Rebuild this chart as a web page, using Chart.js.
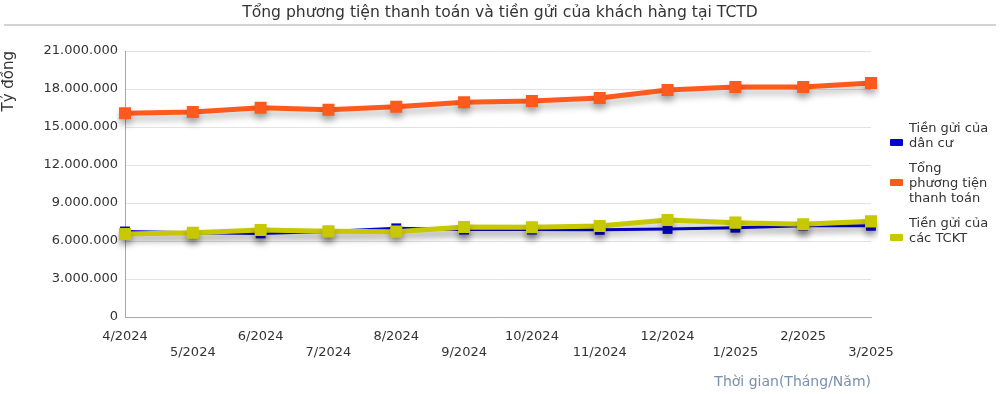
<!DOCTYPE html>
<html>
<head>
<meta charset="utf-8">
<script src="https://cdn.jsdelivr.net/npm/chart.js@4"></script>
<style>
  body { margin: 0; background: #fff; font-family: 'DejaVu Sans', sans-serif; }
  #wrap { position: relative; width: 1000px; height: 394px; }
  #title { position: absolute; left: 0; top: 3px; width: 1000px; text-align: center; font-size: 15.6px; color: #333; }
  #rule { position: absolute; left: 4px; top: 24px; width: 992px; height: 2px; background: #d4d4d4; }
  #legend { position: absolute; left: 890px; top: 120px; font-size: 13px; color: #333; line-height: 15px; }
  .item { display: flex; align-items: flex-start; margin-bottom: 10px; }
  .mark { width: 13px; height: 7px; margin-right: 6px; margin-top: 19px; flex: none; border-radius: 1px; }
</style>
</head>
<body>
<div id="wrap">
  <canvas id="chart" width="1000" height="394"></canvas>
  <div id="title">Tổng phương tiện thanh toán và tiền gửi của khách hàng tại TCTD</div>
  <div id="rule"></div>
  <div id="legend"></div>
</div>
<script>
const months = ['4/2024', '5/2024', '6/2024', '7/2024', '8/2024', '9/2024', '10/2024', '11/2024', '12/2024', '1/2025', '2/2025', '3/2025'];

// triệu tỷ đồng -> đơn vị tỷ đồng
const danCu = [6.75, 6.65, 6.6, 6.75, 7.0, 6.9, 6.9, 6.88, 6.95, 7.05, 7.2, 7.2];
const tongPTTT = [16.08, 16.18, 16.52, 16.37, 16.6, 16.95, 17.05, 17.29, 17.92, 18.16, 18.16, 18.47];
const tckt = [6.55, 6.66, 6.87, 6.76, 6.74, 7.1, 7.08, 7.18, 7.66, 7.45, 7.32, 7.55];

const seriesNames = [['Tiền gửi của', 'dân cư'], ['Tổng', 'phương tiện', 'thanh toán'], ['Tiền gửi của', 'các TCKT']];
const seriesColors = ['#0000d0', '#ff5a1e', '#c8c800'];

const toTy = arr => arr.map(v => v * 1000000);
const fmt = v => String(v).replace(/\B(?=(\d{3})+(?!\d))/g, '.');

// bóng đổ dưới đường
const shadowPlugin = {
  id: 'shadow',
  beforeDatasetDraw(chart) {
    const ctx = chart.ctx;
    ctx.save();
    ctx.shadowColor = 'rgba(0,0,0,0.28)';
    ctx.shadowBlur = 7;
    ctx.shadowOffsetY = 5;
  },
  afterDatasetDraw(chart) {
    chart.ctx.restore();
  }
};

// order lớn vẽ trước (nằm dưới)
const makeSet = (i, data, width, radius, order) => ({
  label: seriesNames[i].join(' '),
  data: toTy(data),
  borderColor: seriesColors[i],
  backgroundColor: seriesColors[i],
  borderWidth: width,
  pointStyle: 'rect',
  pointRadius: radius,
  pointHoverRadius: radius,
  pointBorderWidth: 0,
  tension: 0,
  order: order
});

new Chart(document.getElementById('chart').getContext('2d'), {
  type: 'line',
  data: {
    labels: months,
    datasets: [
      makeSet(0, danCu, 3, 7, 3),
      makeSet(1, tongPTTT, 5, 8.5, 1),
      makeSet(2, tckt, 5, 8.5, 2)
    ]
  },
  options: {
    responsive: false,
    animation: false,
    layout: { padding: { top: 51, right: 129, left: 0, bottom: 0 } },
    plugins: {
      legend: { display: false },
      title: { display: false },
      tooltip: { enabled: false }
    },
    scales: {
      x: {
        offset: false,
        grid: { display: false },
        border: { display: true, color: '#a8a8a8', width: 1 },
        ticks: {
          color: '#333',
          font: { family: 'DejaVu Sans', size: 13, lineHeight: 1.25 },
          padding: 3,
          maxRotation: 0,
          autoSkip: false,
          callback: function (v, i) { return i % 2 ? ['', months[i]] : months[i]; }
        },
        title: {
          display: true,
          text: 'Thời gian(Tháng/Năm)',
          align: 'end',
          color: '#7a8fad',
          font: { family: 'DejaVu Sans', size: 14 },
          padding: { top: 0, bottom: 3 }
        },
        afterFit: s => { s.height = 77; }
      },
      y: {
        min: 0,
        max: 21000000,
        grid: { color: '#e2e2e2', drawTicks: false, lineWidth: 1 },
        border: { display: true, color: '#a8a8a8' },
        ticks: {
          stepSize: 3000000,
          color: '#333',
          padding: 7,
          font: { family: 'DejaVu Sans', size: 13 },
          callback: v => fmt(v)
        },
        title: {
          display: true,
          text: 'Tỷ đồng',
          align: 'end',
          color: '#333',
          font: { family: 'DejaVu Sans', size: 15 },
          padding: { top: 0, bottom: 4 }
        },
        afterFit: s => { s.width = 125; }
      }
    }
  },
  plugins: [shadowPlugin]
});

// chú thích bên phải
const legend = document.getElementById('legend');
seriesNames.forEach((name, i) => {
  const row = document.createElement('div');
  row.className = 'item';
  const mark = document.createElement('span');
  mark.className = 'mark';
  mark.style.background = seriesColors[i];
  const txt = document.createElement('span');
  txt.innerHTML = name.join('<br>');
  row.appendChild(mark);
  row.appendChild(txt);
  legend.appendChild(row);
});
</script>
</body>
</html>
